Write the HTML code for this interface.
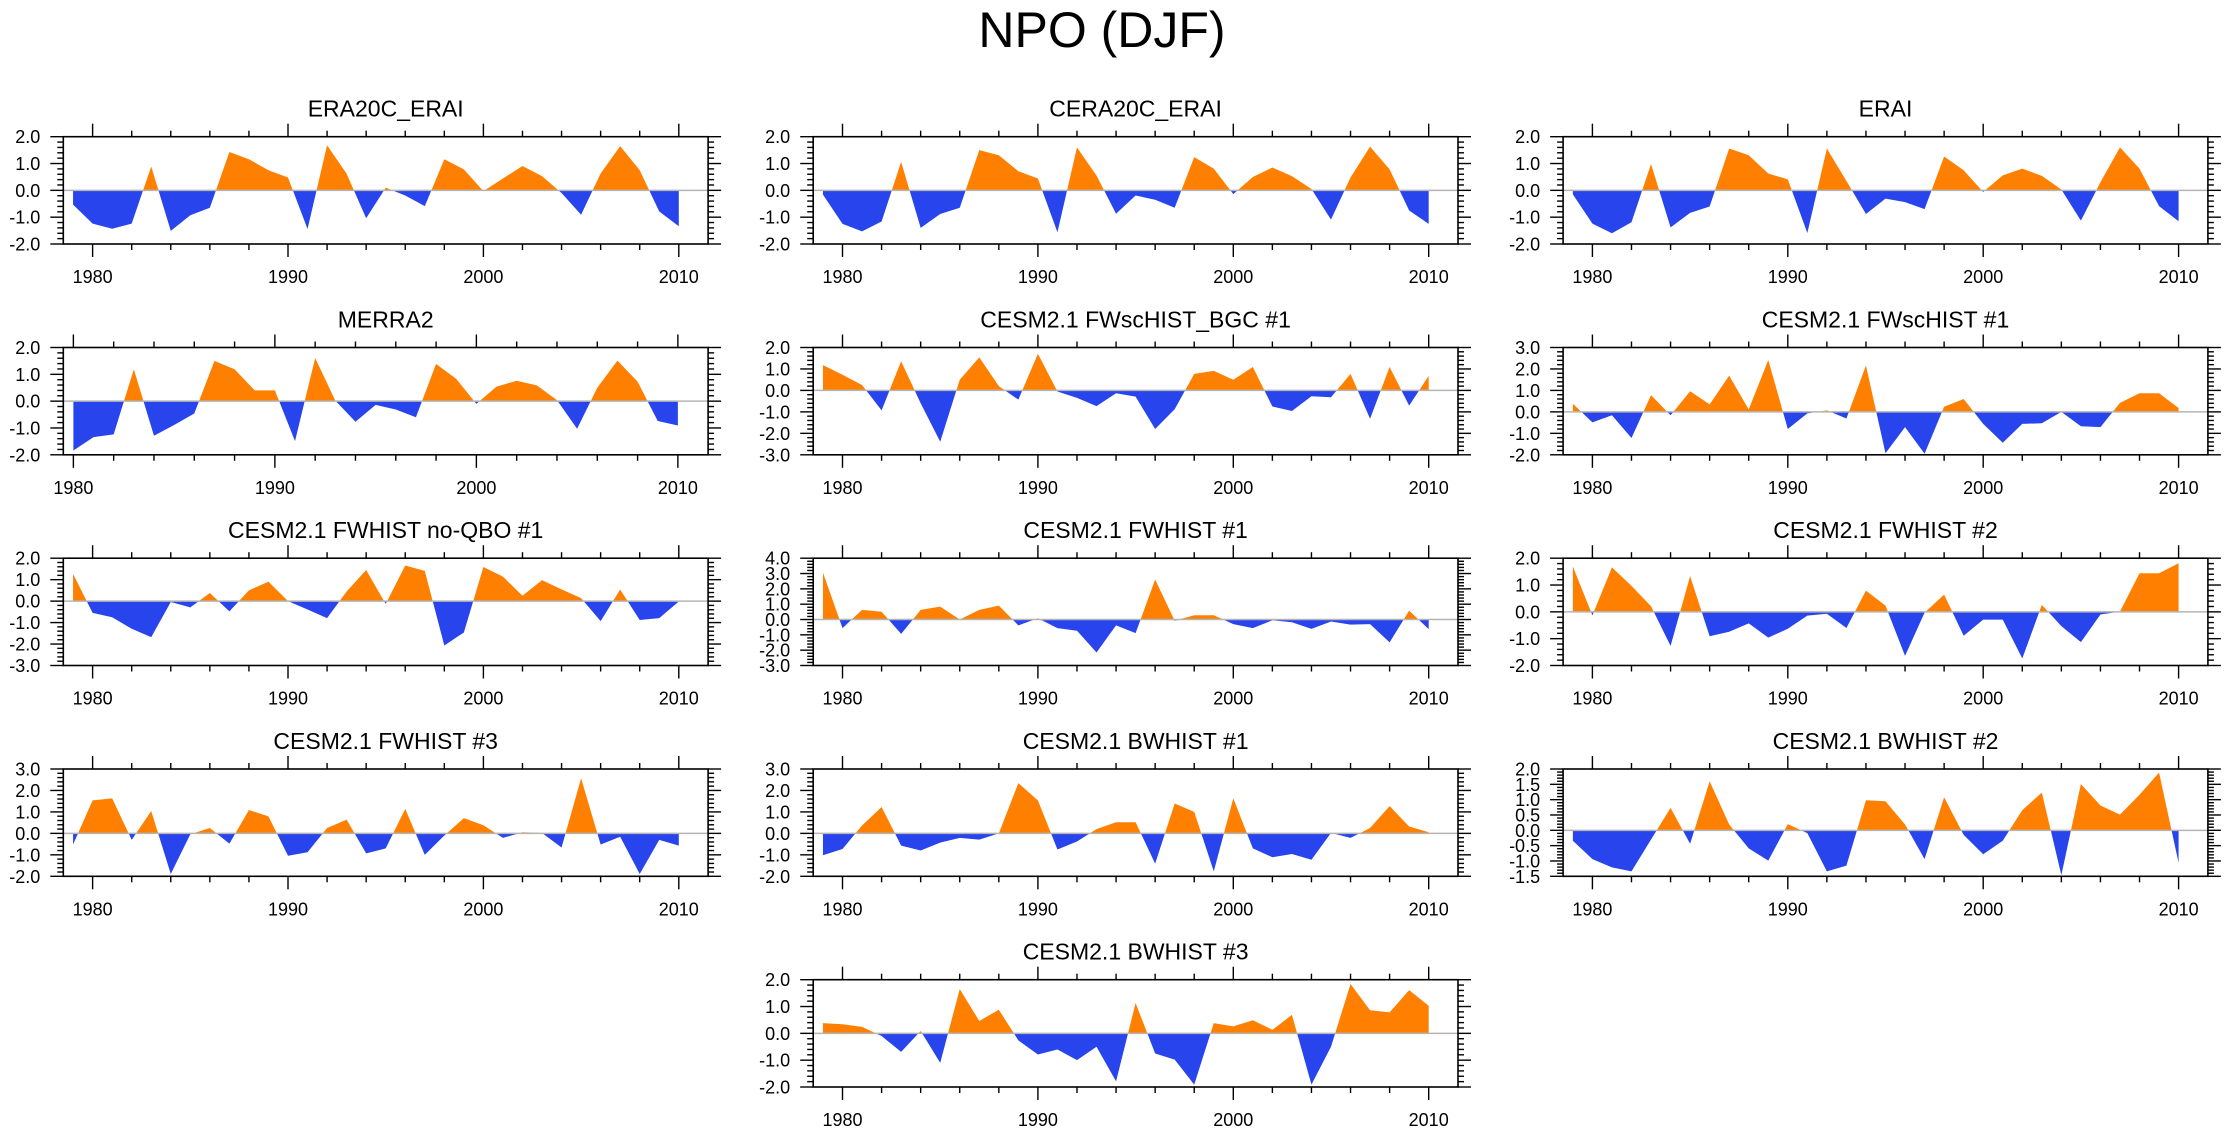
<!DOCTYPE html>
<html><head><meta charset="utf-8"><style>
html,body{margin:0;padding:0;background:#fff;}
svg{display:block;font-family:"Liberation Sans",Arial,sans-serif;}
</style></head><body>
<svg id="chart" xmlns="http://www.w3.org/2000/svg" width="2230" height="1133" viewBox="0 0 2230 1133">
<rect width="2230" height="1133" fill="#fff"/>
<text x="1102" y="47" font-size="50" text-anchor="middle" fill="#000">NPO (DJF)</text>
<g id="panels"></g>
</svg>
<script>
const years = [1979,1980,1981,1982,1983,1984,1985,1986,1987,1988,1989,1990,1991,1992,1993,1994,1995,1996,1997,1998,1999,2000,2001,2002,2003,2004,2005,2006,2007,2008,2009,2010];
const merra2Years = [1980,1981,1982,1983,1984,1985,1986,1987,1988,1989,1990,1991,1992,1993,1994,1995,1996,1997,1998,1999,2000,2001,2002,2003,2004,2005,2006,2007,2008,2009,2010];
const xTickYears = [1980,1990,2000,2010];
const panelTitles = ["ERA20C_ERAI","CERA20C_ERAI","ERAI","MERRA2","CESM2.1 FWscHIST_BGC #1","CESM2.1 FWscHIST #1","CESM2.1 FWHIST no-QBO #1","CESM2.1 FWHIST #1","CESM2.1 FWHIST #2","CESM2.1 FWHIST #3","CESM2.1 BWHIST #1","CESM2.1 BWHIST #2","CESM2.1 BWHIST #3"];
const yMins = [-2,-2,-2,-2,-3,-2,-3,-3,-2,-2,-2,-1.5,-2];
const yMaxs = [2,2,2,2,2,3,2,4,2,3,3,2,2];
const yMajorSteps = [1,1,1,1,1,1,1,1,1,1,1,0.5,1];

const era20cErai = [-0.53,-1.24,-1.43,-1.24,0.89,-1.51,-0.93,-0.65,1.43,1.16,0.75,0.48,-1.44,1.68,0.62,-1.04,0.1,-0.19,-0.59,1.16,0.78,-0.03,0.44,0.91,0.53,-0.1,-0.91,0.63,1.65,0.75,-0.79,-1.34];
const cera20cErai = [-0.16,-1.25,-1.53,-1.16,1.06,-1.4,-0.88,-0.65,1.5,1.31,0.71,0.44,-1.56,1.6,0.55,-0.87,-0.19,-0.35,-0.65,1.24,0.81,-0.14,0.5,0.85,0.53,0.05,-1.09,0.48,1.63,0.78,-0.75,-1.25];
const erai = [-0.15,-1.24,-1.6,-1.19,0.98,-1.38,-0.84,-0.6,1.56,1.31,0.63,0.41,-1.59,1.56,0.35,-0.88,-0.31,-0.44,-0.7,1.26,0.75,-0.06,0.56,0.81,0.54,0.03,-1.13,0.3,1.6,0.81,-0.59,-1.15];
const merra2 = [-1.84,-1.34,-1.24,1.19,-1.29,-0.89,-0.46,1.5,1.19,0.4,0.4,-1.49,1.61,0.02,-0.77,-0.14,-0.31,-0.6,1.39,0.83,-0.1,0.54,0.76,0.59,0.04,-1.03,0.5,1.51,0.73,-0.74,-0.91];
const fwschistBgc1 = [1.18,0.73,0.25,-0.93,1.36,-0.6,-2.39,0.5,1.54,0.2,-0.43,1.71,-0.05,-0.35,-0.73,-0.13,-0.29,-1.8,-0.88,0.77,0.91,0.5,1.09,-0.75,-0.96,-0.27,-0.32,0.77,-1.32,1.09,-0.71,0.68];
const fwschist1 = [0.38,-0.49,-0.16,-1.22,0.78,-0.16,0.96,0.35,1.69,0.11,2.42,-0.8,-0.07,0.07,-0.31,2.16,-1.93,-0.71,-1.95,0.24,0.6,-0.56,-1.44,-0.56,-0.53,0,-0.67,-0.71,0.42,0.87,0.87,0.18];
const fwhistNoQbo1 = [1.27,-0.55,-0.75,-1.29,-1.68,-0.04,-0.29,0.38,-0.48,0.5,0.91,0,-0.39,-0.79,0.45,1.45,-0.13,1.66,1.41,-2.07,-1.46,1.59,1.14,0.25,0.98,0.55,0.14,-0.93,0.54,-0.88,-0.79,-0.02];
const fwhist1 = [3.06,-0.56,0.63,0.51,-0.94,0.63,0.84,0,0.63,0.91,-0.38,0.08,-0.56,-0.73,-2.15,-0.38,-0.89,2.61,-0.08,0.28,0.28,-0.3,-0.56,-0.05,-0.18,-0.61,-0.13,-0.33,-0.3,-1.49,0.58,-0.63];
const fwhist2 = [1.69,-0.13,1.66,0.97,0.21,-1.27,1.33,-0.91,-0.74,-0.43,-0.96,-0.63,-0.14,-0.07,-0.6,0.79,0.23,-1.64,-0.03,0.64,-0.89,-0.29,-0.29,-1.74,0.26,-0.53,-1.13,-0.1,0.01,1.44,1.44,1.81];
const fwhist3 = [-0.52,1.54,1.63,-0.3,1.04,-1.89,-0.04,0.25,-0.48,1.09,0.79,-1.04,-0.88,0.25,0.64,-0.93,-0.7,1.14,-1.0,-0.1,0.71,0.38,-0.21,0.05,0.02,-0.66,2.57,-0.52,-0.16,-1.89,-0.3,-0.57];
const bwhist1 = [-1.02,-0.73,0.37,1.23,-0.57,-0.8,-0.43,-0.21,-0.29,0,2.34,1.54,-0.75,-0.38,0.2,0.52,0.52,-1.41,1.39,1.0,-1.77,1.63,-0.7,-1.11,-0.96,-1.23,0.02,-0.21,0.25,1.27,0.32,0.05];
const bwhist2 = [-0.34,-0.94,-1.21,-1.34,-0.3,0.73,-0.44,1.6,0.19,-0.59,-0.99,0.2,-0.09,-1.34,-1.15,0.98,0.95,0.19,-0.94,1.08,-0.15,-0.78,-0.34,0.66,1.23,-1.46,1.51,0.81,0.51,1.16,1.88,-1.06];
const bwhist3 = [0.38,0.34,0.24,-0.1,-0.69,0.09,-1.1,1.65,0.46,0.88,-0.26,-0.79,-0.6,-1.0,-0.5,-1.79,1.13,-0.75,-0.98,-1.91,0.38,0.26,0.49,0.13,0.69,-1.91,-0.5,1.84,0.86,0.78,1.61,1.03];

const seriesList = [era20cErai,cera20cErai,erai,merra2,fwschistBgc1,fwschist1,fwhistNoQbo1,fwhist1,fwhist2,fwhist3,bwhist1,bwhist2,bwhist3];
const panelNames = ['era20c-erai','cera20c-erai','erai','merra2','fwschist-bgc-1','fwschist-1','fwhist-noqbo-1','fwhist-1','fwhist-2','fwhist-3','bwhist-1','bwhist-2','bwhist-3'];

const NS = 'http://www.w3.org/2000/svg';
const colX = [63.3, 813.2, 1563.1];
const rowY = [136.7, 347.5, 558.2, 769.0, 979.7];
const W = 644.8, H = 107.3;
const root = document.getElementById('panels');

function mk(tag, attrs, parent){
  const e = document.createElementNS(NS, tag);
  for (const k in attrs) e.setAttribute(k, attrs[k]);
  parent.appendChild(e);
  return e;
}

seriesList.forEach((vals, i) => {
  const row = i === 12 ? 4 : Math.floor(i / 3);
  const col = i === 12 ? 1 : i % 3;
  const x0 = colX[col], y0 = rowY[row];
  const xs = i === 3 ? merra2Years : years;
  const xMin = i === 3 ? 1979.5 : 1978.5, xMax = 2011.5;
  const yMin = yMins[i], yMax = yMaxs[i], step = yMajorSteps[i];
  const xScale = yr => x0 + (yr - xMin) / (xMax - xMin) * W;
  const yScale = v => y0 + H - (v - yMin) / (yMax - yMin) * H;
  const zy = yScale(0);

  const g = mk('g', {}, root);
  
  

  const t = mk('text', {x: x0 + W/2, y: y0 - 20, 'font-size': 23, 'text-anchor': 'middle', fill: '#000'}, g);
  t.textContent = panelTitles[i];
  
  

  const defs = mk('defs', {}, g);
  const cpA = mk('clipPath', {id: 'ca' + i}, defs);
  mk('rect', {x: x0, y: y0, width: W, height: zy - y0}, cpA);
  const cpB = mk('clipPath', {id: 'cb' + i}, defs);
  mk('rect', {x: x0, y: zy, width: W, height: y0 + H - zy}, cpB);

  let pts = vals.map((v, k) => xScale(xs[k]).toFixed(2) + ',' + yScale(v).toFixed(2));
  pts.push(xScale(xs[xs.length-1]).toFixed(2) + ',' + zy.toFixed(2));
  pts.push(xScale(xs[0]).toFixed(2) + ',' + zy.toFixed(2));
  const ptsStr = pts.join(' ');
  const pa = mk('polygon', {points: ptsStr, fill: '#FF8000', 'clip-path': 'url(#ca' + i + ')'}, g);
  
  
  const pb = mk('polygon', {points: ptsStr, fill: '#2844EC', 'clip-path': 'url(#cb' + i + ')'}, g);
  
  

  const zl = mk('line', {x1: x0, x2: x0 + W, y1: zy, y2: zy, stroke: '#b4b4b4', 'stroke-width': 1.5}, g);
  
  

  const box = mk('rect', {x: x0, y: y0, width: W, height: H, fill: 'none', stroke: '#000', 'stroke-width': 1.6}, g);
  
  

  const tk = mk('g', {stroke: '#000', 'stroke-width': 1.4}, g);
  
  
  for (let yr = 1980; yr <= 2010; yr += 2) {
    const x = xScale(yr);
    const L = (yr % 10 === 0) ? 13 : 6;
    mk('line', {x1: x, x2: x, y1: y0 + H, y2: y0 + H + L}, tk);
    mk('line', {x1: x, x2: x, y1: y0, y2: y0 - L}, tk);
  }
  const minor = step < 1 ? 0.1 : 0.2;
  const nMinor = Math.round((yMax - yMin) / minor);
  for (let k = 0; k <= nMinor; k++) {
    const v = yMin + k * minor;
    const y = yScale(v);
    const isMajor = Math.abs(v / step - Math.round(v / step)) < 1e-6;
    const L = isMajor ? 13 : 6;
    mk('line', {x1: x0, x2: x0 - L, y1: y, y2: y}, tk);
    mk('line', {x1: x0 + W, x2: x0 + W + L, y1: y, y2: y}, tk);
  }
  const nMajor = Math.round((yMax - yMin) / step);
  for (let k = 0; k <= nMajor; k++) {
    const v = yMin + k * step;
    const lb = mk('text', {x: x0 - 23, y: yScale(v) + 6.5, 'font-size': 18, 'text-anchor': 'end', fill: '#000'}, g);
    lb.textContent = v.toFixed(1);
    
    
  }
  xTickYears.forEach(yr => {
    const lb = mk('text', {x: xScale(yr), y: y0 + H + 39, 'font-size': 18, 'text-anchor': 'middle', fill: '#000'}, g);
    lb.textContent = String(yr);
    
    
  });
});
</script>
</body></html>
